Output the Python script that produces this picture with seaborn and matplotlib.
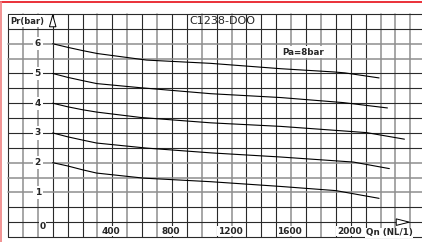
import pandas as pd
import matplotlib
matplotlib.use("Agg")
import matplotlib.pyplot as plt
from matplotlib.patches import Polygon
from matplotlib.lines import Line2D
import seaborn as sns

# valores (Qn em Nl/min, Pr em bar)
qn_6 = [0, 100, 200, 300, 630, 1060, 1530, 1890, 1960, 2190]
pr_6 = [6.00, 5.88, 5.77, 5.67, 5.45, 5.34, 5.16, 5.05, 5.02, 4.85]
qn_5 = [0, 100, 200, 295, 590, 1060, 1530, 1950, 2246]
pr_5 = [5.00, 4.87, 4.76, 4.66, 4.52, 4.32, 4.19, 4.02, 3.84]
qn_4 = [0, 100, 200, 297, 590, 1060, 1530, 2107, 2360]
pr_4 = [4.00, 3.88, 3.78, 3.70, 3.52, 3.34, 3.22, 3.01, 2.79]
qn_3 = [0, 100, 200, 295, 630, 1060, 1530, 2018, 2259]
pr_3 = [3.00, 2.87, 2.76, 2.66, 2.49, 2.33, 2.19, 2.02, 1.80]
qn_2 = [0, 100, 200, 295, 610, 1060, 1530, 1900, 2190]
pr_2 = [2.00, 1.89, 1.76, 1.65, 1.48, 1.36, 1.20, 1.06, 0.80]

y_ticks = [1, 2, 3, 4, 5, 6]
x_ticks = [400, 800, 1200, 1600, 2000]
titulo = 'C1238-DOO'
pa_label = 'Pa=8bar'

df = pd.concat([
    pd.DataFrame({'Qn': qn_6, 'Pr': pr_6, 'curva': 6}),
    pd.DataFrame({'Qn': qn_5, 'Pr': pr_5, 'curva': 5}),
    pd.DataFrame({'Qn': qn_4, 'Pr': pr_4, 'curva': 4}),
    pd.DataFrame({'Qn': qn_3, 'Pr': pr_3, 'curva': 3}),
    pd.DataFrame({'Qn': qn_2, 'Pr': pr_2, 'curva': 2}),
], ignore_index=True)

sns.set_style('white')
plt.rcParams['font.family'] = ['DejaVu Sans']

fig = plt.figure(figsize=(4.22, 2.42), dpi=100)
ax = fig.add_axes([8 / 422, 5 / 242, 414 / 422, 223 / 242])
ax.set_xlim(-300, 2478)
ax.set_ylim(-0.5, 7.0)
ax.axis('off')

escuro = '#2a2a2a'
cinza = '#8e8e8e'

# grade vertical (de -300 a 2400, passo 100)
grade_x = list(range(-300, 2401, 100))
cores_x = 'dggdddgdgdgddgdgdddgdgdddgggg'
for x, c in zip(grade_x, cores_x):
    ax.axvline(x, color=escuro if c == 'd' else cinza,
               lw=0.8 if c == 'd' else 1.1, zorder=1, clip_on=False)

# grade horizontal (de -0.5 a 7, passo 0.5)
grade_y = [i * 0.5 for i in range(-1, 15)]
cores_y = 'dddgggddddddggdd'
for y, c in zip(grade_y, cores_y):
    ax.axhline(y, color=escuro if c == 'd' else cinza,
               lw=0.8 if c == 'd' else 1.1, zorder=1, clip_on=False)

sns.lineplot(data=df, x='Qn', y='Pr', units='curva', estimator=None,
             color='black', lw=0.8, ax=ax, zorder=3, legend=False)

caixa = dict(fc='white', ec='none', pad=1.5)
for v in y_ticks:
    ax.text(-100, v, str(v), ha='center', va='center', fontsize=6.5,
            fontweight='bold', bbox=caixa, zorder=5)
caixa_x = dict(fc='white', ec='none', pad=0.4)
ax.text(-67, -0.14, '0', ha='center', va='center', fontsize=6.5,
        fontweight='bold', bbox=caixa_x, zorder=5)
for v in x_ticks:
    ax.text(v - 10, -0.30, str(v), ha='center', va='center', fontsize=6.5,
            fontweight='bold', bbox=caixa_x, zorder=5)

ax.text(-287, 6.76, 'Pr(bar)', ha='left', va='center', fontsize=6,
        fontweight='bold', bbox=dict(fc='white', ec='none', pad=1), zorder=5)
ax.text(1137, 6.76, titulo, ha='center', va='center', fontsize=8, zorder=5)
ax.text(1678, 5.72, pa_label, ha='center', va='center', fontsize=6.3,
        fontweight='bold', bbox=dict(fc='white', ec='none', pad=0.8), zorder=5)
ax.text(2257, -0.35, 'Qn (NL/1)', ha='center', va='center', fontsize=6.3,
        fontweight='bold', bbox=dict(fc='white', ec='none', pad=0.4), zorder=5)

# setas dos eixos
ax.add_patch(Polygon([(-22, 6.57), (22, 6.57), (0, 6.97)], closed=True,
                     fc='white', ec='black', lw=0.7, zorder=4))
ax.add_patch(Polygon([(2305, -0.11), (2305, 0.11), (2393, 0)], closed=True,
                     fc='white', ec='black', lw=0.7, zorder=4))

# moldura vermelha
fig.add_artist(Line2D([0, 1], [1 - 2 / 242] * 2, color='#e8202a', lw=1.3,
                      transform=fig.transFigure))
fig.add_artist(Line2D([1 / 422] * 2, [0, 1 - 2 / 242], color='#f08a8a', lw=1.3,
                      transform=fig.transFigure))

fig.savefig('out.png', dpi=100)
